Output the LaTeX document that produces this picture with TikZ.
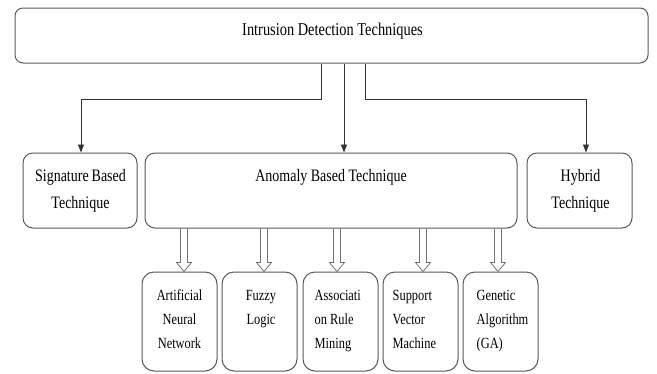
\documentclass[tikz,border=0pt]{standalone}
\usepackage{fontspec}
\setmainfont{Liberation Serif}[FakeStretch=0.8]
\usetikzlibrary{arrows.meta,calc}

\tikzset{
  box/.style={draw=black!65, line width=1pt, rounded corners=#1, inner sep=0pt},
  box/.default=10pt,
  toptext/.style={inner sep=0pt, text=black, font=\fontsize{18}{27}\selectfont},
  uptext/.style={inner sep=0pt, text=black, align=center, font=\fontsize{17.5}{27}\selectfont},
  lowtext/.style={inner sep=0pt, text=black, font=\fontsize{15.5}{24}\selectfont},
  conn/.style={draw=black!80, line width=0.8pt, -{Triangle[length=8pt,width=6pt]}},
  blockarrow/.style={draw=black!55, line width=0.8pt, line join=miter},
}

% hollow block arrow from the bottom of #1 down to the top of #2, shifted by #3
\newcommand\hollowarrow[3]{%
  \coordinate (ha-tip) at ($(#2.north)+(#3,0)$);
  \coordinate (ha-top) at (ha-tip |- #1.south);
  \draw[blockarrow] ($(ha-top)+(-3.5,0)$) -- ($(ha-tip)+(-3.5,-9)$)
    -- ($(ha-tip)+(-7.5,-9)$) -- (ha-tip) -- ($(ha-tip)+(7.5,-9)$)
    -- ($(ha-tip)+(3.5,-9)$) -- ($(ha-top)+(3.5,0)$);}

\begin{document}
\begin{tikzpicture}[x=1pt,y=-1pt]
\useasboundingbox (0,0) rectangle (657,373);

% root
\node[box=8pt, minimum width=633pt, minimum height=55pt] (top) at (331.5,35.5) {};
\node[toptext, anchor=base] (top-t) at ($(top.north)+(1,27.7)$) {Intrusion Detection Techniques};

% main classes
\node[box, minimum width=114pt, minimum height=75pt] (sig) at (80,190.5) {};
\node[box, minimum width=372pt, minimum height=75pt] (anom) at (331,190.5) {};
\node[box, minimum width=105pt, minimum height=75pt] (hyb) at (579.5,190.5) {};

\node[uptext, anchor=north] (sig-t) at ($(sig.north)+(0.5,9.6)$) {\strut Signature\,Based\\\strut Technique};
\node[uptext, anchor=base] (anom-t) at ($(anom.north)+(0,29)$) {Anomaly Based Technique};
\node[uptext, anchor=north] (hyb-t) at ($(hyb.north)+(1,9.6)$) {\strut Hybrid\\\strut Technique};

% anomaly based methods
\node[box=12pt, minimum width=75pt, minimum height=99pt] (ann) at (179.5,321.5) {};
\node[box=12pt, minimum width=75pt, minimum height=99pt] (fuzzy) at (259.5,321.5) {};
\node[box=12pt, minimum width=75pt, minimum height=99pt] (assoc) at (340.5,321.5) {};
\node[box=12pt, minimum width=75pt, minimum height=99pt] (svm) at (420.5,321.5) {};
\node[box=12pt, minimum width=75pt, minimum height=99pt] (ga) at (500.5,321.5) {};

\node[lowtext, align=center, anchor=north] (ann-t) at ($(ann.north)+(0,12.2)$) {\strut Artificial\\\strut Neural\\\strut Network};
\node[lowtext, align=center, anchor=north] (fuzzy-t) at ($(fuzzy.north)+(1.5,12.2)$) {\strut Fuzzy\\\strut Logic};
\node[lowtext, align=left, anchor=north west] (assoc-t) at ($(assoc.north west)+(12,12.2)$) {\strut Associati\\\strut on Rule\\\strut Mining};
\node[lowtext, align=left, anchor=north west] (svm-t) at ($(svm.north west)+(10,12.2)$) {\strut Support\\\strut Vector\\\strut Machine};
\node[lowtext, align=left, anchor=north west] (ga-t) at ($(ga.north west)+(14,12.2)$) {\strut Genetic\\\strut Algorithm\\\strut (GA)};

% connectors from the root
\draw[conn] ($(top.south)+(-10.5,0)$) |- ($(sig.north)+(1,-53)$) -- ($(sig.north)+(1,0)$);
\draw[conn] ($(top.south)+(12.5,0)$) -- ($(anom.north)+(13,0)$);
\draw[conn] ($(top.south)+(33.5,0)$) |- ($(hyb.north)+(6.5,-53)$) -- ($(hyb.north)+(6.5,0)$);

% hollow arrows to the methods
\hollowarrow{anom}{ann}{4.5}
\hollowarrow{anom}{fuzzy}{4.5}
\hollowarrow{anom}{assoc}{-3.5}
\hollowarrow{anom}{svm}{2.5}
\hollowarrow{anom}{ga}{-2.5}
\end{tikzpicture}
\end{document}
